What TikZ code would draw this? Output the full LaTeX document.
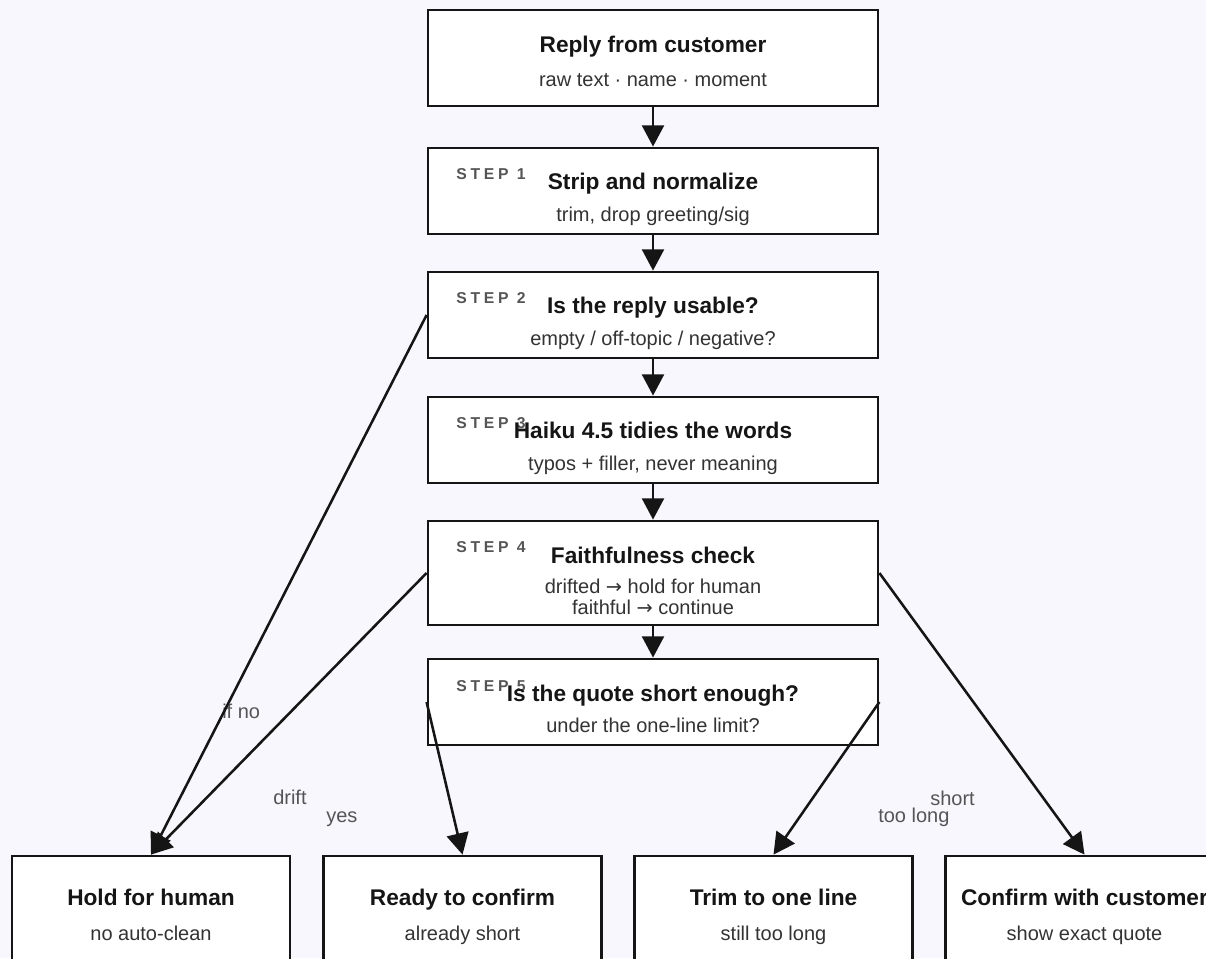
\documentclass[tikz,border=0pt]{standalone}
\usepackage{fontspec}
\setmainfont{Liberation Sans}
\newfontfamily\arrowfont{DejaVu Sans}
\usetikzlibrary{arrows.meta,calc}
\definecolor{bg}{HTML}{F8F7FE}
\definecolor{titlec}{HTML}{151515}
\definecolor{subc}{HTML}{333333}
\definecolor{stepc}{HTML}{555555}
\definecolor{lblc}{HTML}{555555}
\definecolor{linec}{HTML}{151515}
\newcommand{\rarr}{{\arrowfont\fontsize{14.5}{16}\selectfont →}}
\begin{document}
\begin{tikzpicture}[x=0.75pt,y=-0.75pt,
  box/.style={draw=linec, line width=2.1pt, fill=white, inner sep=0pt, minimum width=337.5pt},
  botbox/.style={box, minimum width=208.5pt, minimum height=84pt},
  ttl/.style={anchor=base, font=\fontsize{17}{20}\selectfont\bfseries, text=titlec, inner sep=0pt},
  sub/.style={anchor=base, font=\fontsize{15}{18}\selectfont, text=subc, inner sep=0pt},
  steplbl/.style={anchor=base west, font=\fontsize{11.8}{14}\selectfont\bfseries\addfontfeature{LetterSpace=24}, text=stepc, inner sep=0pt},
  elbl/.style={anchor=base west, font=\fontsize{15}{18}\selectfont, text=lblc, inner sep=0pt},
  arr/.style={line width=1.9pt, draw=linec, -{Triangle[length=16pt,width=16.5pt]}}]
\fill[bg] (0,0) rectangle (1206,958);
\useasboundingbox (0,0) rectangle (1206,958);
\clip (0,0) rectangle (1206,958);

% boxes
\node[box, minimum height=72pt]   (top) at (653,58) {};
\node[box, minimum height=64.5pt] (s1)  at (653,191) {};
\node[box, minimum height=64.5pt] (s2)  at (653,315) {};
\node[box, minimum height=64.5pt] (s3)  at (653,440) {};
\node[box, minimum height=78pt]   (s4)  at (653,573) {};
\node[box, minimum height=64.5pt] (s5)  at (653,702) {};
\node[botbox] (hold)  at (151,912) {};
\node[botbox] (ready) at (462.5,912) {};
\node[botbox] (trim)  at (773.5,912) {};
\node[botbox] (conf)  at (1084.5,912) {};

% texts
\node[ttl] (t0) at (653,52) {Reply from customer};
\node[sub] (u0) at (653,86) {raw text · name · moment};

\node[steplbl] (k1) at (456,179) {STEP 1};
\node[ttl] (t1) at (653,189) {Strip and normalize};
\node[sub] (u1) at (653,221) {trim, drop greeting/sig};

\node[steplbl] (k2) at (456,303) {STEP 2};
\node[ttl] (t2) at (653,313) {Is the reply usable?};
\node[sub] (u2) at (653,345) {empty / off-topic / negative?};

\node[steplbl] (k3) at (456,428) {STEP 3};
\node[ttl] (t3) at (653,438) {Haiku 4.5 tidies the words};
\node[sub] (u3) at (653,470) {typos + filler, never meaning};

\node[steplbl] (k4) at (456,552) {STEP 4};
\node[ttl] (t4) at (653,563) {Faithfulness check};
\node[sub] (u4a) at (653,593) {drifted \rarr{} hold for human};
\node[sub] (u4b) at (653,614) {faithful \rarr{} continue};

\node[steplbl] (k5) at (456,691) {STEP 5};
\node[ttl] (t5) at (653,701) {Is the quote short enough?};
\node[sub] (u5) at (653,732) {under the one-line limit?};

\node[ttl] (th) at (151,905) {Hold for human};
\node[sub] (uh) at (151,940) {no auto-clean};
\node[ttl] (tr) at (462.5,905) {Ready to confirm};
\node[sub] (ur) at (462.5,940) {already short};
\node[ttl] (tt) at (773.5,905) {Trim to one line};
\node[sub] (ut) at (773.5,940) {still too long};
\node[ttl] (tc) at (1084.5,905) {Confirm with customer};
\node[sub] (uc) at (1084.5,940) {show exact quote};

% edge labels
\node[elbl] (lifno) at (222,718) {if no};
\node[elbl] (ldrift) at (273,804) {drift};
\node[elbl] (lyes) at (326,822) {yes};
\node[elbl] (lshort) at (930,805) {short};
\node[elbl] (llong) at (878,822) {too long};

% connectors
\draw[arr] (top.south) -- (s1.north);
\draw[arr] (s1.south) -- (s2.north);
\draw[arr] (s2.south) -- (s3.north);
\draw[arr] (s3.south) -- (s4.north);
\draw[arr] (s4.south) -- (s5.north);
\draw[arr] (s2.west) -- (hold.north);
\draw[arr] (s4.west) -- (hold.north);
\draw[arr] (s5.west) -- (ready.north);
\draw[arr] (s5.east) -- (trim.north);
\draw[arr] (s4.east) -- (conf.north);
\end{tikzpicture}
\end{document}
